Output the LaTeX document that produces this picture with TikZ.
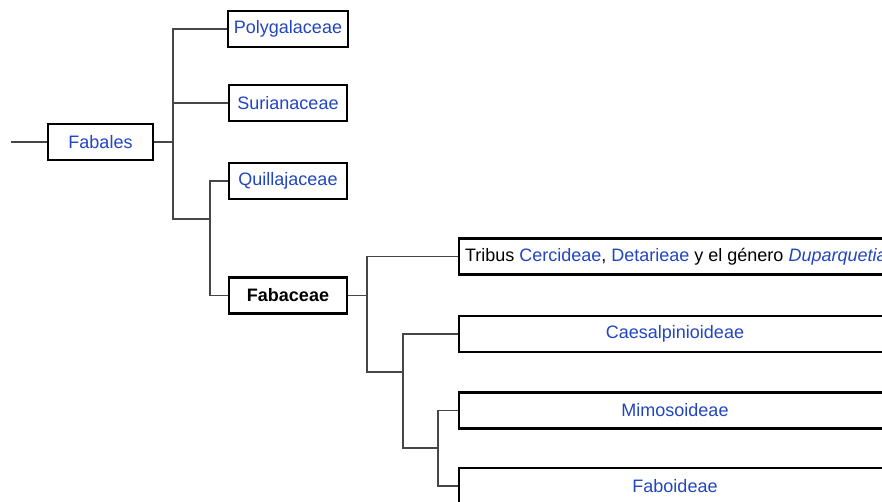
\documentclass[tikz,border=0pt]{standalone}
\usepackage{fontspec}
\setmainfont{Liberation Sans}
\usepackage{xcolor}
\definecolor{linkblue}{RGB}{34,70,192}
\definecolor{branchgray}{RGB}{70,70,70}

\begin{document}
\begin{tikzpicture}[x=1pt,y=-1pt,
    taxon/.style={draw=black,line width=2.6pt,fill=white,minimum height=36pt,inner xsep=6pt,inner ysep=0pt,
        font=\fontsize{18}{20}\selectfont},
    small/.style={taxon,minimum width=118pt},
    wide/.style={taxon,minimum width=432pt},
    branch/.style={draw=branchgray,line width=1.2pt}]
    \useasboundingbox (0,0) rectangle (882,501);
    % orden y familias
    \node[taxon,minimum width=105pt] (fab) at (100.5,142) {\textcolor{linkblue}{Fabales}};
    \node[small] (pol) at (288,29) {\textcolor{linkblue}{Polygalaceae}};
    \node[small] (sur) at (288,103) {\textcolor{linkblue}{Surianaceae}};
    \node[small] (qui) at (288,181) {\textcolor{linkblue}{Quillajaceae}};
    \node[small] (faba) at (288,295.5) {\textbf{Fabaceae}};
    % subfamilias
    \node[wide] (trib) at (675,256.5) {\makebox[420pt][l]{Tribus \textcolor{linkblue}{Cercideae}, \textcolor{linkblue}{Detarieae} y el género \textcolor{linkblue}{\textit{Duparquetia}}}};
    \node[wide] (cae) at (675,334) {\textcolor{linkblue}{Caesalpinioideae}};
    \node[wide] (mim) at (675,410.5) {\textcolor{linkblue}{Mimosoideae}};
    \node[wide] (fabo) at (675,486) {\textcolor{linkblue}{Faboideae}};
    % ramas
    \coordinate (root) at (11,142);
    \coordinate (n1) at (173,142);
    \coordinate (n2) at (210,219);
    \coordinate (n3) at (367,295.5);
    \coordinate (n4) at (403,372);
    \coordinate (n5) at (438,448);
    \draw[branch] (root) -- (fab.west);
    \draw[branch] (fab.east) -- (n1);
    \draw[branch] (pol.west) -| (n1);
    \draw[branch] (sur.west) -| (n1);
    \draw[branch] (n1) |- (n2);
    \draw[branch] (qui.west) -| (n2);
    \draw[branch] (faba.west) -| (n2);
    \draw[branch] (faba.east) -- (n3);
    \draw[branch] (trib.west) -| (n3);
    \draw[branch] (n3) |- (n4);
    \draw[branch] (cae.west) -| (n4);
    \draw[branch] (n4) |- (n5);
    \draw[branch] (mim.west) -| (n5);
    \draw[branch] (fabo.west) -| (n5);
\end{tikzpicture}
\end{document}
